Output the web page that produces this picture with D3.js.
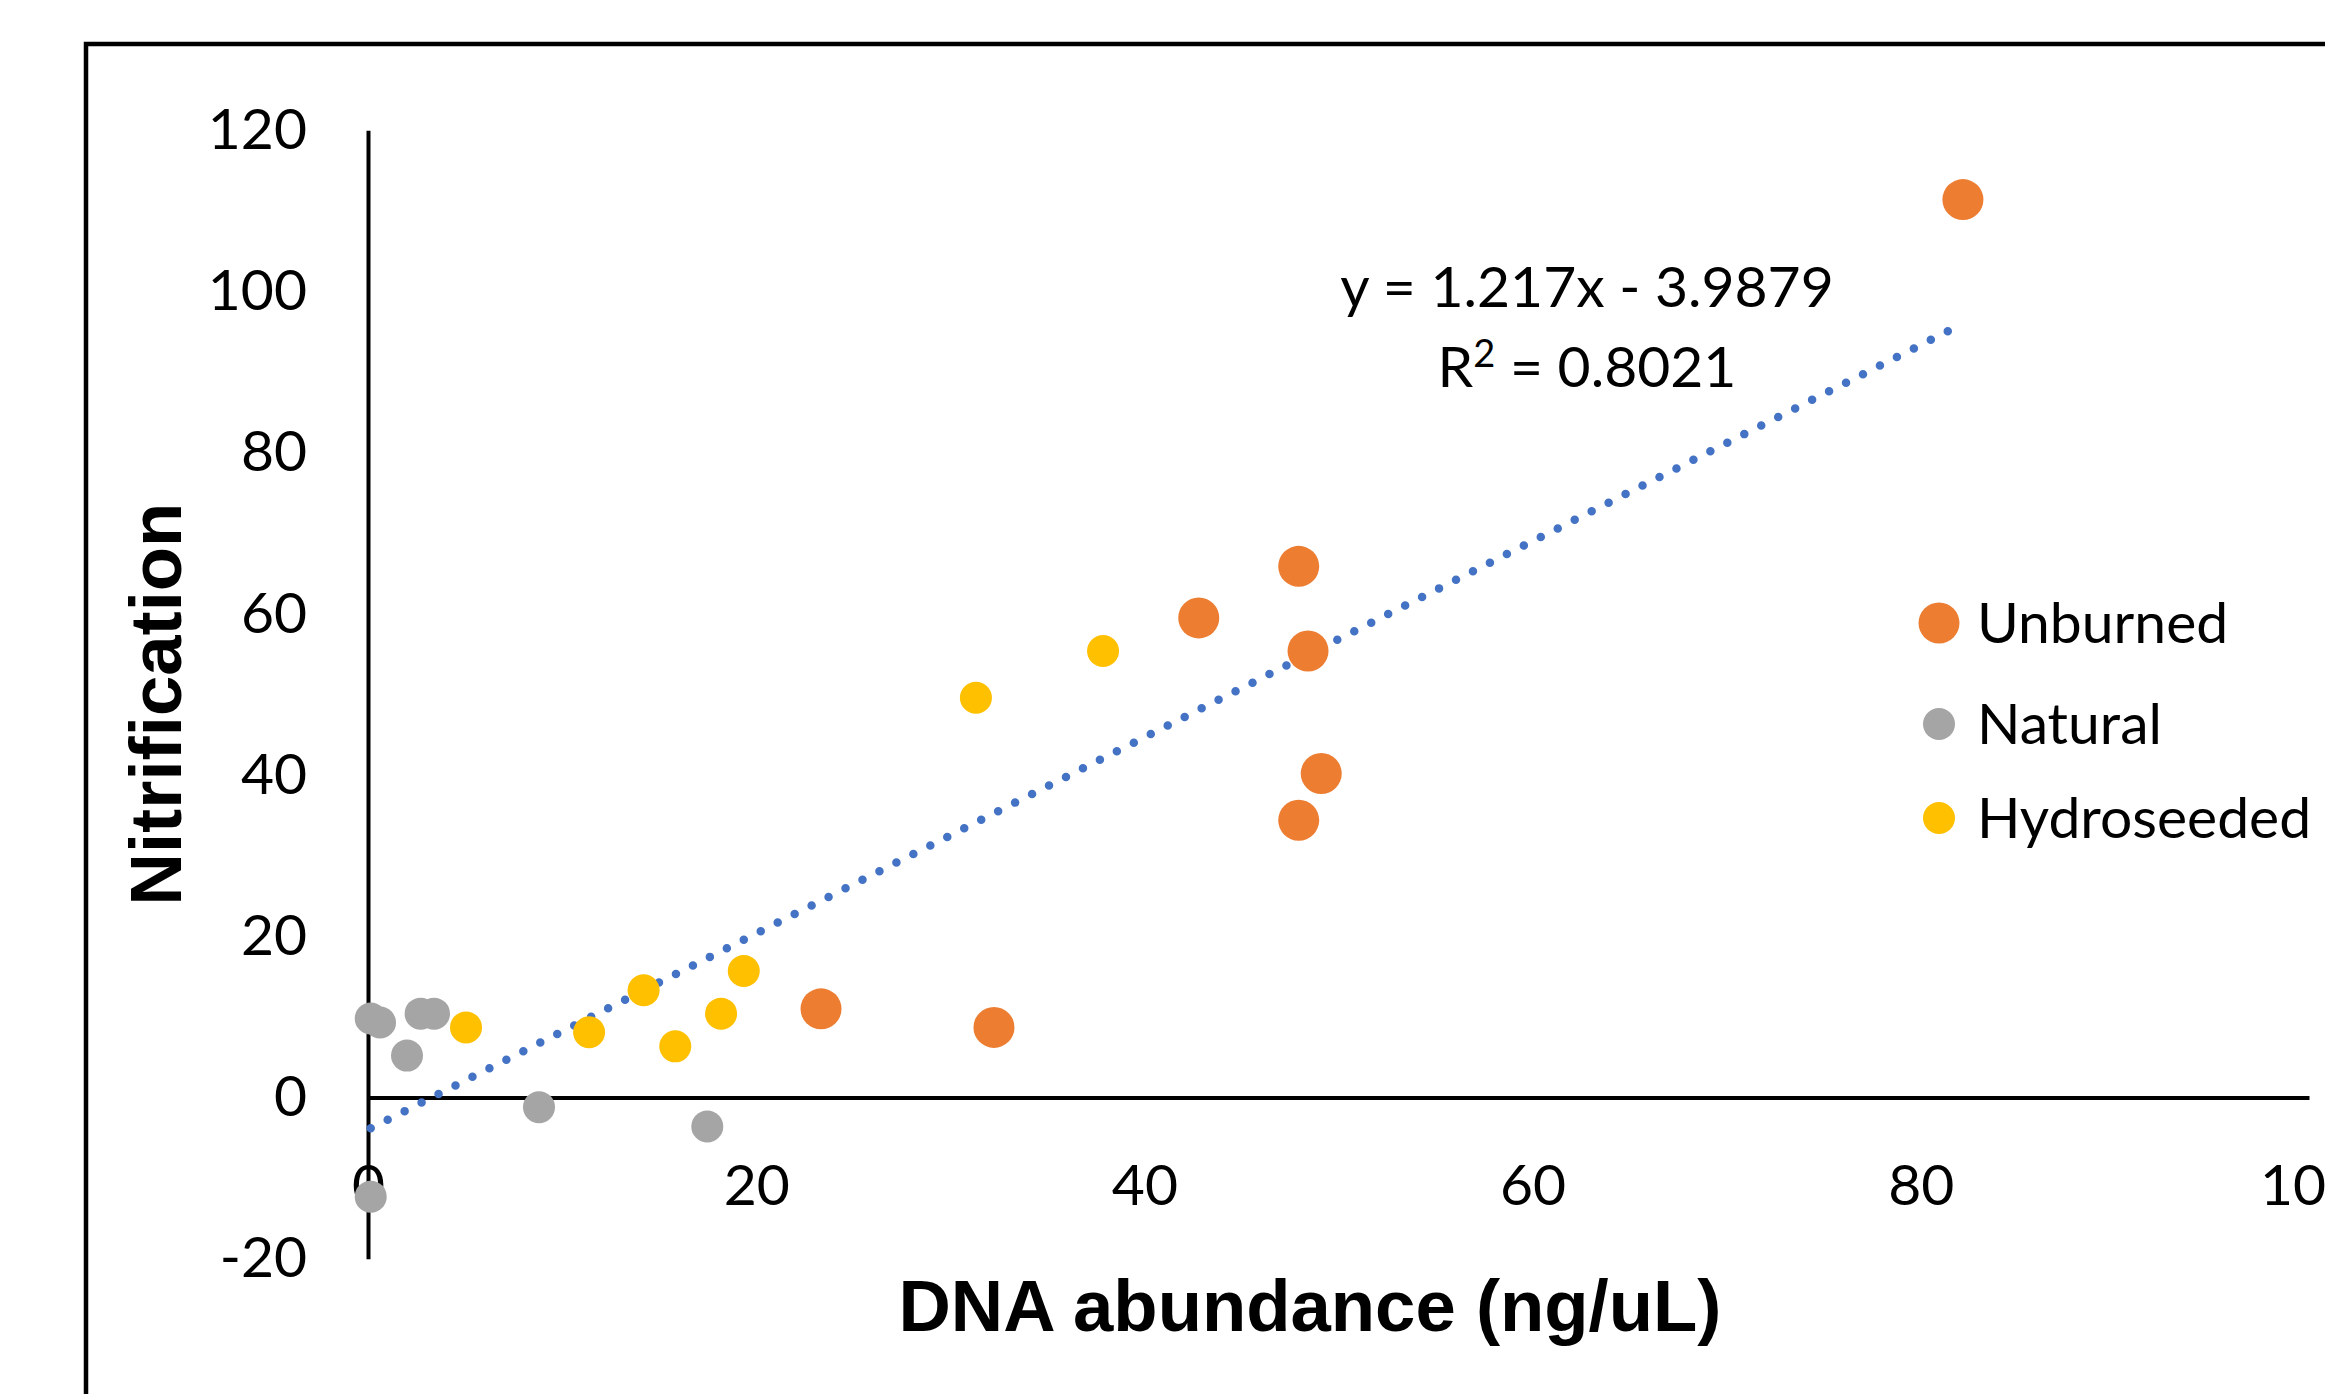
<!DOCTYPE html>
<html>
<head>
<meta charset="utf-8">
<script src="https://cdn.jsdelivr.net/npm/d3@7"></script>
<style>
  html, body { margin: 0; padding: 0; background: #fff; }
  svg { display: block; }
</style>
</head>
<body>
<svg id="chart" width="2325" height="1394"></svg>
<script>
// ---- Data ----
const seriesNames = ["Unburned", "Natural", "Hydroseeded"];
const unburnedX = [23.34, 32.25, 42.8, 47.95, 48.43, 49.11, 47.95, 82.17];
const unburnedY = [11.0, 8.7, 59.5, 65.9, 55.4, 40.2, 34.4, 111.4];
const naturalX = [0.14, 0.62, 2.71, 3.40, 2.01, 8.81, 17.48, 0.14];
const naturalY = [9.8, 9.3, 10.4, 10.4, 5.2, -1.2, -3.6, -12.3];
const hydroX = [5.05, 11.39, 14.2, 15.83, 18.19, 19.36, 31.32, 37.87];
const hydroY = [8.7, 8.1, 13.3, 6.35, 10.4, 15.7, 49.6, 55.4];
const xTicks = [0, 20, 40, 60, 80, 100];
const yTicks = [-20, 0, 20, 40, 60, 80, 100, 120];
const trendSlope = 1.217;
const trendIntercept = -3.9879;
const eqLine1 = "y = 1.217x - 3.9879";
const eqLine2a = "R";
const eqLine2sup = "2";
const eqLine2b = " = 0.8021";
const xTitle = "DNA abundance (ng/uL)";
const yTitle = "Nitrification";

// ---- Styles ----
const colors = { "Unburned": "#ED7D31", "Natural": "#A5A5A5", "Hydroseeded": "#FFC000" };
const radii = { "Unburned": 20.5, "Natural": 16, "Hydroseeded": 16 };
const labelFont = "Lato, 'Open Sans', sans-serif";
const titleFont = "'Liberation Sans', Arial, sans-serif";

const svg = d3.select("#chart");

// Frame
svg.append("path")
  .attr("d", "M86,1400 L86,44 L2330,44")
  .attr("fill", "none").attr("stroke", "#000").attr("stroke-width", 4.5);

const x = d3.scaleLinear().domain([0, 100]).range([368, 2309]);
const y = d3.scaleLinear().domain([-20, 120]).range([1258.7, 130.3]);
const fmt = d => String(d);

// Axes
const yAxis = svg.append("g")
  .attr("transform", `translate(${x(0)},0)`)
  .call(d3.axisLeft(y).tickValues(yTicks).tickSize(0).tickPadding(61).tickFormat(fmt));
yAxis.select(".domain").attr("stroke", "#000").attr("stroke-width", 4);
yAxis.selectAll("text")
  .attr("font-family", labelFont).attr("font-size", 57).attr("fill", "#000");

const xAxis = svg.append("g")
  .attr("transform", `translate(0,${y(0)})`)
  .call(d3.axisBottom(x).tickValues(xTicks).tickSize(0).tickFormat(fmt));
xAxis.select(".domain").attr("stroke", "#000").attr("stroke-width", 4);
xAxis.selectAll("text")
  .attr("font-family", labelFont).attr("font-size", 57).attr("fill", "#000")
  .attr("y", 1205 - y(0)).attr("dy", 0);

// Trendline
const tx0 = d3.min(naturalX.concat(hydroX, unburnedX));
const tx1 = d3.max(naturalX.concat(hydroX, unburnedX));
svg.append("line")
  .attr("x1", x(tx0)).attr("y1", y(trendSlope * tx0 + trendIntercept))
  .attr("x2", x(tx1)).attr("y2", y(trendSlope * tx1 + trendIntercept))
  .attr("stroke", "#4472C4").attr("stroke-width", 8.5)
  .attr("stroke-linecap", "round").attr("stroke-dasharray", "0 19");

// Points
const series = [
  { name: "Unburned", xs: unburnedX, ys: unburnedY },
  { name: "Natural", xs: naturalX, ys: naturalY },
  { name: "Hydroseeded", xs: hydroX, ys: hydroY }
];
series.forEach(s => {
  svg.append("g").selectAll("circle")
    .data(s.xs.map((v, i) => [v, s.ys[i]]))
    .join("circle")
    .attr("cx", d => x(d[0])).attr("cy", d => y(d[1]))
    .attr("r", radii[s.name]).attr("fill", colors[s.name]);
});

// Equation
const eq = svg.append("g").attr("font-family", labelFont).attr("font-size", 57).attr("fill", "#000");
eq.append("text").attr("x", 1587).attr("y", 307).attr("text-anchor", "middle").text(eqLine1);
const t2 = eq.append("text").attr("x", 1587).attr("y", 387).attr("text-anchor", "middle");
t2.append("tspan").text(eqLine2a);
t2.append("tspan").attr("font-size", 38).attr("dy", -20).text(eqLine2sup);
t2.append("tspan").attr("dy", 20).text(eqLine2b);

// Legend
const legendY = [623, 724, 818];
const legend = svg.append("g");
seriesNames.forEach((n, i) => {
  legend.append("circle").attr("cx", 1939).attr("cy", legendY[i])
    .attr("r", radii[n]).attr("fill", colors[n]);
  legend.append("text").attr("x", 1977).attr("y", legendY[i] + 20)
    .attr("font-family", labelFont).attr("font-size", 57).attr("fill", "#000")
    .text(n);
});

// Titles
svg.append("text")
  .attr("x", 1310).attr("y", 1331).attr("text-anchor", "middle")
  .attr("font-family", titleFont).attr("font-weight", "bold").attr("font-size", 72.5)
  .attr("fill", "#000").text(xTitle);
svg.append("text")
  .attr("transform", "translate(181,704) rotate(-90)").attr("text-anchor", "middle")
  .attr("font-family", titleFont).attr("font-weight", "bold").attr("font-size", 72.5)
  .attr("fill", "#000").text(yTitle);
</script>
</body>
</html>
